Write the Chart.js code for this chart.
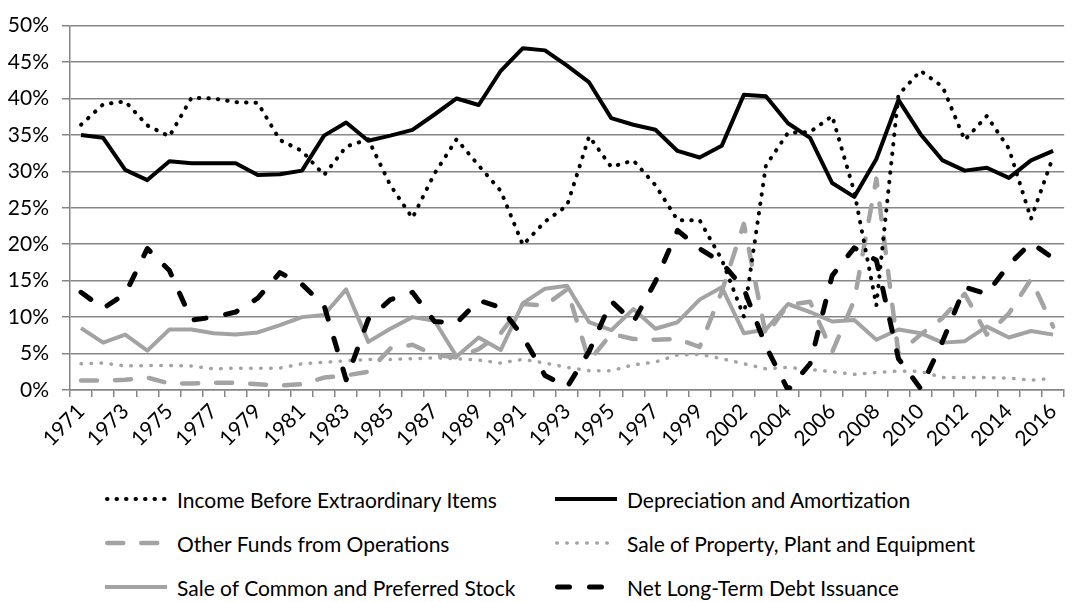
<!DOCTYPE html>
<html lang="en">
<head>
<meta charset="UTF-8">
<title>Sources of funds, 1971-2016</title>
<script src="https://cdn.jsdelivr.net/npm/chart.js"></script>
<style>
  body { margin: 0; background: #fff; font-family: Lato, sans-serif; }
  #wrap { position: relative; width: 1073px; height: 602px; overflow: hidden; }
  #chartBox { position: absolute; left: 0; top: 0; width: 1073px; height: 470px; }
  .item { position: absolute; display: flex; align-items: center; height: 26px;
          font-size: 21px; color: #000; white-space: nowrap; }
  .item svg { margin-right: 10px; flex: none; }
</style>
</head>
<body>
<div id="wrap">
  <div id="chartBox"><canvas id="lineChart" width="1073" height="470"></canvas></div>
  <div id="legend"></div>
</div>
<script>
// categories (2001 is not in the series)
const years = ['1971','1972','1973','1974','1975','1976','1977','1978','1979','1980',
  '1981','1982','1983','1984','1985','1986','1987','1988','1989','1990',
  '1991','1992','1993','1994','1995','1996','1997','1998','1999','2000',
  '2002','2003','2004','2005','2006','2007','2008','2009','2010','2011',
  '2012','2013','2014','2015','2016'];

// values in percent
const income = [36.4, 39.2, 39.6, 36.3, 34.8, 40.1, 40.0, 39.5, 39.4, 34.3,
  32.8, 29.5, 33.4, 34.4, 28.1, 23.6, 29.7, 34.4, 30.8, 27.3,
  19.9, 23.1, 25.3, 34.8, 30.6, 31.5, 28.1, 23.3, 23.3, 17.9,
  10.1, 30.8, 35.3, 35.4, 37.6, 27.2, 11.6, 40.5, 43.8, 41.6,
  34.3, 37.6, 33.1, 23.5, 32.0];
const depreciation = [35.0, 34.6, 30.2, 28.8, 31.4, 31.1, 31.1, 31.1, 29.5, 29.6,
  30.1, 34.9, 36.7, 34.2, 34.9, 35.7, 37.8, 40.0, 39.1, 43.8,
  46.9, 46.6, 44.5, 42.2, 37.3, 36.4, 35.7, 32.8, 31.9, 33.5,
  40.5, 40.3, 36.6, 34.6, 28.4, 26.5, 31.7, 39.8, 35.1, 31.5,
  30.1, 30.5, 29.1, 31.5, 32.8];
const otherFunds = [1.3, 1.3, 1.4, 1.7, 0.9, 0.9, 1.0, 1.0, 0.8, 0.6,
  0.8, 1.7, 2.0, 2.5, 5.7, 6.2, 4.8, 4.5, 5.6, 7.8,
  11.8, 11.6, 13.8, 4.0, 7.7, 7.0, 6.9, 7.0, 5.9, 13.5,
  22.8, 7.5, 11.7, 12.1, 5.2, 12.3, 29.0, 5.0, 7.6, 9.9,
  13.2, 7.6, 10.5, 15.2, 8.7];
const salePPE = [3.6, 3.7, 3.3, 3.35, 3.35, 3.3, 2.9, 3.0, 3.0, 3.0,
  3.6, 3.8, 4.0, 4.2, 4.2, 4.3, 4.4, 4.3, 4.1, 3.7,
  4.2, 3.7, 3.1, 2.65, 2.65, 3.45, 3.85, 4.8, 4.9, 4.3,
  3.6, 2.9, 3.1, 2.8, 2.5, 2.15, 2.4, 2.6, 2.55, 1.7,
  1.7, 1.7, 1.65, 1.35, 1.6];
const saleStock = [8.5, 6.5, 7.6, 5.4, 8.3, 8.3, 7.8, 7.6, 7.9, 8.9,
  10.0, 10.3, 13.8, 6.6, 8.4, 10.0, 9.5, 4.6, 7.2, 5.5,
  11.9, 13.9, 14.3, 9.3, 8.2, 11.1, 8.4, 9.3, 12.4, 14.1,
  7.8, 8.3, 11.8, 10.7, 9.4, 9.6, 6.9, 8.3, 7.8, 6.5,
  6.7, 8.7, 7.2, 8.1, 7.6];
const debtIssuance = [13.4, 11.2, 13.2, 19.4, 16.4, 9.6, 10.0, 10.7, 12.6, 16.1,
  14.5, 11.6, 1.4, 9.7, 12.4, 13.4, 9.4, 9.2, 12.3, 11.3,
  7.3, 2.0, 0.4, 5.3, 12.2, 9.3, 14.9, 21.9, 19.4, 17.5,
  13.9, 6.0, 0.0, 3.6, 15.7, 19.5, 17.8, 4.3, 0.2, 6.7,
  14.1, 13.2, 17.2, 20.2, 18.1];

const yTicks = [0, 5, 10, 15, 20, 25, 30, 35, 40, 45, 50];

const BLACK = '#000000';
const GREY = '#a3a3a3';
const AXIS = '#868686';

// line styles, also used for the legend samples
const styles = [
  { label: 'Income Before Extraordinary Items', data: income, color: BLACK, width: 4, dash: [0.5, 9], cap: 'round' },
  { label: 'Depreciation and Amortization', data: depreciation, color: BLACK, width: 4, dash: [], cap: 'butt' },
  { label: 'Other Funds from Operations', data: otherFunds, color: GREY, width: 4.5, dash: [16, 18], cap: 'round' },
  { label: 'Sale of Property, Plant and Equipment', data: salePPE, color: GREY, width: 3.5, dash: [0.5, 9.5], cap: 'round' },
  { label: 'Sale of Common and Preferred Stock', data: saleStock, color: GREY, width: 4, dash: [], cap: 'butt' },
  { label: 'Net Long-Term Debt Issuance', data: debtIssuance, color: BLACK, width: 5, dash: [12, 20], cap: 'round' }
];

const datasets = styles.map(s => ({
  label: s.label,
  data: s.data,
  borderColor: s.color,
  backgroundColor: s.color,
  borderWidth: s.width,
  borderDash: s.dash,
  borderCapStyle: s.cap,
  borderJoinStyle: 'round',
  pointRadius: 0,
  tension: 0,
  fill: false,
  order: s.color === BLACK ? 0 : 1
}));

const tickFont = { family: 'Lato', size: 21 };

new Chart(document.getElementById('lineChart'), {
  type: 'line',
  data: { labels: years, datasets: datasets },
  options: {
    responsive: false,
    animation: false,
    layout: { padding: { top: 17, right: 7, left: 0, bottom: 0 } },
    plugins: { legend: { display: false }, tooltip: { enabled: false } },
    scales: {
      x: {
        offset: true,
        grid: { display: true, drawOnChartArea: false, drawTicks: true, tickLength: 7,
                offset: true, color: AXIS, lineWidth: 1.5 },
        border: { display: true, color: AXIS, width: 1.5 },
        ticks: {
          autoSkip: false, maxRotation: 45, minRotation: 45, padding: 2,
          color: '#000', font: tickFont,
          callback: (v, i) => (i % 2 === 0 ? years[i] : '')
        },
        afterFit: scale => { scale.height = 80; }
      },
      y: {
        min: 0, max: 50,
        afterBuildTicks: scale => { scale.ticks = yTicks.map(v => ({ value: v })); },
        grid: { color: AXIS, lineWidth: 1.5, tickLength: 8 },
        border: { display: true, color: AXIS, width: 1.5 },
        ticks: { color: '#000', font: tickFont, padding: 13, callback: v => v + '%' },
        afterFit: scale => { scale.width = 70; }
      }
    }
  }
});

// legend, 2 columns x 3 rows
const legend = document.getElementById('legend');
const colLeft = [105, 555];
const rowMid = [499, 543, 587];
styles.forEach((s, i) => {
  const item = document.createElement('div');
  item.className = 'item';
  item.style.left = colLeft[i % 2] + 'px';
  item.style.top = (rowMid[Math.floor(i / 2)] - 13) + 'px';
  const w = 62;
  const dash = s.dash.length ? s.dash.join(' ') : 'none';
  const pad = s.cap === 'round' ? s.width / 2 : 0;
  item.innerHTML =
    '<svg width="' + w + '" height="12"><line x1="' + pad + '" y1="6" x2="' + (w - pad) +
    '" y2="6" stroke="' + s.color + '" stroke-width="' + s.width + '" stroke-dasharray="' + dash +
    '" stroke-linecap="' + s.cap + '"/></svg><span>' + s.label + '</span>';
  legend.appendChild(item);
});
</script>
</body>
</html>
